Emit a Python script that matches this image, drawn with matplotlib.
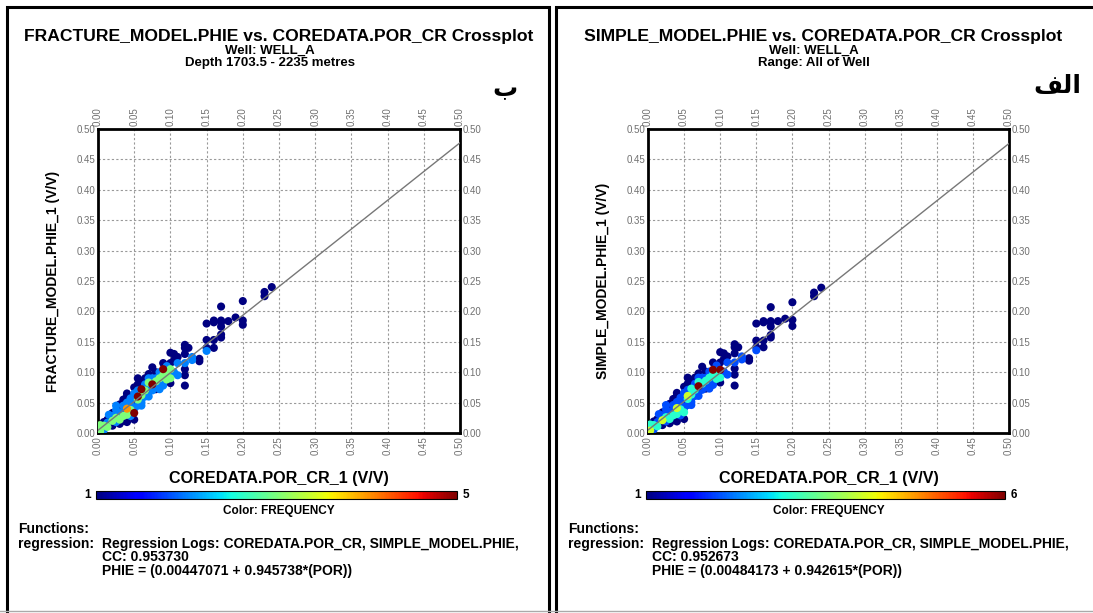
import matplotlib.pyplot as plt
import numpy as np

W, H = 1093, 613

# left panel: FRACTURE_MODEL (ب)
por_a = [0.003, 0.003, 0.003, 0.008, 0.008, 0.008, 0.013, 0.013, 0.013,
         0.02, 0.02, 0.02, 0.02, 0.025, 0.025, 0.025, 0.025,
         0.03, 0.03, 0.03, 0.03, 0.03, 0.035, 0.035, 0.035, 0.035, 0.035,
         0.04, 0.04, 0.04, 0.04, 0.04, 0.04, 0.045, 0.045, 0.045,
         0.05, 0.05, 0.05, 0.05, 0.05, 0.05, 0.05,
         0.055, 0.055, 0.055, 0.055, 0.055, 0.055,
         0.06, 0.06, 0.06, 0.06, 0.06, 0.065, 0.065, 0.065, 0.065,
         0.07, 0.07, 0.07, 0.07, 0.07, 0.075, 0.075, 0.075, 0.075,
         0.08, 0.08, 0.08, 0.08, 0.08, 0.085, 0.085, 0.085,
         0.09, 0.09, 0.09, 0.09, 0.095, 0.095, 0.095,
         0.10, 0.10, 0.10, 0.10, 0.10, 0.10, 0.105, 0.105, 0.105,
         0.11, 0.11, 0.11,
         0.12, 0.12, 0.12, 0.12, 0.12, 0.12, 0.12, 0.125,
         0.13, 0.13, 0.14, 0.14,
         0.15, 0.15, 0.15, 0.15, 0.16, 0.16, 0.16, 0.16,
         0.17, 0.17, 0.17, 0.17, 0.17, 0.17, 0.18, 0.19,
         0.20, 0.20, 0.20, 0.23, 0.23, 0.24,
         0.015, 0.025, 0.045, 0.06, 0.07, 0.085, 0.09]
phie_a = [0.003, 0.008, 0.013, 0.005, 0.012, 0.018, 0.010, 0.017, 0.022,
          0.012, 0.020, 0.028, 0.033, 0.018, 0.025, 0.030, 0.045,
          0.015, 0.022, 0.030, 0.040, 0.047, 0.020, 0.028, 0.036, 0.045, 0.055,
          0.018, 0.030, 0.040, 0.050, 0.060, 0.065, 0.028, 0.038, 0.047,
          0.022, 0.033, 0.040, 0.048, 0.057, 0.065, 0.075,
          0.045, 0.055, 0.060, 0.070, 0.080, 0.090,
          0.045, 0.055, 0.062, 0.072, 0.085, 0.060, 0.070, 0.080, 0.090,
          0.068, 0.075, 0.083, 0.090, 0.097, 0.070, 0.080, 0.090, 0.108,
          0.072, 0.078, 0.085, 0.090, 0.100, 0.080, 0.090, 0.100,
          0.085, 0.095, 0.105, 0.115, 0.088, 0.100, 0.110,
          0.082, 0.090, 0.095, 0.105, 0.115, 0.132, 0.100, 0.120, 0.130,
          0.095, 0.115, 0.125,
          0.078, 0.095, 0.105, 0.115, 0.130, 0.140, 0.145, 0.140,
          0.120, 0.125, 0.118, 0.122,
          0.135, 0.140, 0.153, 0.180, 0.140, 0.153, 0.182, 0.185,
          0.157, 0.162, 0.175, 0.182, 0.185, 0.208, 0.184, 0.190,
          0.178, 0.185, 0.217, 0.225, 0.232, 0.240,
          0.030, 0.038, 0.057, 0.050, 0.060, 0.072, 0.078]
freq_a = [3, 2, 3, 2, 3, 1, 3, 2, 1,
          1, 3, 2, 1, 2, 3, 2, 2,
          1, 3, 2, 1, 1, 1, 3, 2, 2, 1,
          1, 3, 4, 2, 1, 1, 2, 3, 2,
          1, 5, 2, 1, 2, 2, 1,
          2, 3, 5, 2, 1, 1,
          2, 2, 3, 5, 1, 2, 3, 2, 1,
          1, 2, 3, 2, 1, 2, 5, 2, 1,
          1, 2, 3, 2, 1, 2, 3, 2,
          2, 3, 5, 1, 3, 3, 2,
          1, 3, 2, 3, 1, 1, 2, 1, 1,
          2, 2, 1,
          1, 1, 1, 2, 1, 1, 1, 1,
          2, 2, 1, 1,
          2, 1, 1, 1, 1, 1, 1, 1,
          1, 1, 1, 1, 1, 1, 1, 1,
          1, 1, 1, 1, 1, 1,
          2, 2, 2, 2, 2, 2, 2]

# right panel: SIMPLE_MODEL (الف)
por_b = por_a
phie_b = [0.004, 0.009, 0.014, 0.006, 0.013, 0.019, 0.011, 0.018, 0.023,
          0.013, 0.021, 0.029, 0.034, 0.019, 0.026, 0.031, 0.046,
          0.016, 0.023, 0.031, 0.041, 0.048, 0.021, 0.029, 0.037, 0.046, 0.056,
          0.019, 0.031, 0.041, 0.051, 0.061, 0.066, 0.029, 0.039, 0.048,
          0.023, 0.034, 0.041, 0.049, 0.058, 0.066, 0.076,
          0.046, 0.056, 0.061, 0.071, 0.081, 0.091,
          0.046, 0.056, 0.063, 0.073, 0.086, 0.061, 0.071, 0.081, 0.091,
          0.069, 0.077, 0.084, 0.091, 0.098, 0.071, 0.081, 0.091, 0.109,
          0.073, 0.079, 0.086, 0.091, 0.101, 0.081, 0.091, 0.101,
          0.086, 0.096, 0.104, 0.116, 0.089, 0.101, 0.111,
          0.083, 0.091, 0.096, 0.104, 0.116, 0.133, 0.101, 0.121, 0.131,
          0.096, 0.116, 0.126,
          0.078, 0.096, 0.106, 0.116, 0.131, 0.141, 0.146, 0.141,
          0.121, 0.126, 0.119, 0.123,
          0.136, 0.141, 0.152, 0.180, 0.141, 0.152, 0.182, 0.184,
          0.157, 0.161, 0.175, 0.182, 0.184, 0.207, 0.184, 0.188,
          0.176, 0.186, 0.215, 0.225, 0.231, 0.239,
          0.031, 0.039, 0.058, 0.051, 0.061, 0.073, 0.079]
freq_b = [4, 2, 3, 2, 3, 1, 3, 2, 1,
          1, 4, 2, 1, 2, 3, 2, 2,
          1, 3, 2, 1, 1, 1, 3, 2, 2, 1,
          1, 3, 4, 2, 1, 1, 2, 3, 2,
          1, 3, 2, 1, 2, 2, 1,
          2, 3, 4, 2, 1, 1,
          2, 2, 3, 3, 1, 2, 3, 2, 1,
          1, 6, 3, 2, 1, 2, 3, 2, 1,
          1, 2, 3, 2, 1, 2, 3, 2,
          2, 3, 6, 1, 3, 3, 2,
          1, 3, 2, 6, 1, 1, 2, 1, 1,
          2, 2, 1,
          1, 1, 1, 2, 1, 1, 1, 1,
          2, 2, 1, 1,
          2, 1, 1, 1, 1, 1, 1, 1,
          1, 1, 1, 1, 1, 1, 1, 1,
          1, 1, 1, 1, 1, 1,
          2, 2, 2, 2, 2, 2, 2]

ticks = [0.00, 0.05, 0.10, 0.15, 0.20, 0.25, 0.30, 0.35, 0.40, 0.45, 0.50]

panels = [
    dict(tc=279, sc=270, title='FRACTURE_MODEL.PHIE vs. COREDATA.POR_CR Crossplot',
         sub1='Well: WELL_A', sub2='Depth 1703.5 - 2235 metres',
         ylabel='FRACTURE_MODEL.PHIE_1 (V/V)', por=por_a, phie=phie_a, freq=freq_a,
         fmax=5, cc='0.953730', a=0.00447071, b=0.945738,
         eq='PHIE = (0.00447071 + 0.945738*(POR))', tag='\u0628', tagx=505, tagy=89,
         ax_l=98, ax_r=460, cb_l=96, cb_r=457, tx=18),
    dict(tc=823, sc=814, title='SIMPLE_MODEL.PHIE vs. COREDATA.POR_CR Crossplot',
         sub1='Well: WELL_A', sub2='Range: All of Well',
         ylabel='SIMPLE_MODEL.PHIE_1 (V/V)', por=por_b, phie=phie_b, freq=freq_b,
         fmax=6, cc='0.952673', a=0.00484173, b=0.942615,
         eq='PHIE = (0.00484173 + 0.942615*(POR))',
         tag='\ufed2\ufedf\ufe8d', tagx=1057, tagy=86,
         ax_l=648, ax_r=1009, cb_l=646, cb_r=1005, tx=568),
]

plt.rcParams['font.family'] = ['Liberation Sans', 'DejaVu Sans']
fig = plt.figure(figsize=(W / 100, H / 100), dpi=100)


def fx(px):
    return px / W


def fy(py):
    return 1 - py / H


# panel frames
for (l, r) in [(7, 549), (556, 1100)]:
    fig.add_artist(plt.Rectangle((fx(l), fy(616)), fx(r - l), (616 - 7) / H,
                                 transform=fig.transFigure, fill=False,
                                 edgecolor='black', linewidth=2.2))
fig.add_artist(plt.Line2D([0, 1], [fy(611), fy(611)], transform=fig.transFigure,
                          color='#aaaaaa', linewidth=1))

for p in panels:
    cx = (p['ax_l'] + p['ax_r']) / 2
    fig.text(fx(p['tc']), fy(36), p['title'], ha='center', va='center',
             fontsize=12.6, fontweight='bold')
    fig.text(fx(p['sc']), fy(51), p['sub1'], ha='center', va='center',
             fontsize=9.5, fontweight='bold')
    fig.text(fx(p['sc']), fy(63), p['sub2'], ha='center', va='center',
             fontsize=9.5, fontweight='bold')
    fig.text(fx(p['tagx']), fy(p['tagy']), p['tag'], ha='center', va='center',
             fontsize=18, fontweight='bold', family=['DejaVu Sans'])

    ax = fig.add_axes([fx(p['ax_l']), fy(433), fx(p['ax_r'] - p['ax_l']), (433 - 129) / H])
    ax.set_xlim(0, 0.5)
    ax.set_ylim(0, 0.5)
    ax.set_xticks(ticks)
    ax.set_yticks(ticks)
    ax.set_xticklabels(['%.2f' % t for t in ticks], rotation=90)
    ax.set_yticklabels(['%.2f' % t for t in ticks])
    ax.tick_params(length=0, pad=2, labelsize=7, labelcolor='#707070',
                   top=True, right=True, labeltop=True, labelright=True)
    ax.grid(True, color='#999999', linestyle=(0, (2, 2)), linewidth=0.8)
    for s in ax.spines.values():
        s.set_linewidth(2)
    xs = np.linspace(0, 0.5, 50)
    ax.plot(xs, p['a'] + p['b'] * xs, color='#777777', linewidth=1, zorder=4)
    order = np.argsort(p['freq'], kind='stable')
    sc = ax.scatter(np.array(p['por'])[order], np.array(p['phie'])[order],
                    c=np.array(p['freq'])[order], cmap='jet', vmin=1, vmax=p['fmax'],
                    s=34, edgecolors='none', zorder=3)
    ax.set_ylabel(p['ylabel'], fontsize=10, fontweight='bold', labelpad=12)

    fig.text(fx(cx), fy(479), 'COREDATA.POR_CR_1 (V/V)', ha='center', va='center',
             fontsize=11.6, fontweight='bold')
    cax = fig.add_axes([fx(p['cb_l']), fy(499), fx(p['cb_r'] - p['cb_l']), 8 / H])
    cb = fig.colorbar(sc, cax=cax, orientation='horizontal')
    cb.set_ticks([])
    cb.outline.set_linewidth(0.8)
    fig.text(fx(p['cb_l'] - 8), fy(495), '1', ha='center', va='center',
             fontsize=8.5, fontweight='bold')
    fig.text(fx(p['cb_r'] + 9), fy(495), str(p['fmax']), ha='center', va='center',
             fontsize=8.5, fontweight='bold')
    fig.text(fx(cx), fy(511), 'Color: FREQUENCY',
             ha='center', va='center', fontsize=8.5, fontweight='bold')

    fig.text(fx(p['tx']), fy(529), 'Functions:', ha='left', va='center',
             fontsize=10, fontweight='bold')
    fig.text(fx(p['tx']), fy(544), 'regression:', ha='left', va='center',
             fontsize=10, fontweight='bold')
    fig.text(fx(p['tx'] + 84), fy(544),
             'Regression Logs: COREDATA.POR_CR, SIMPLE_MODEL.PHIE,',
             ha='left', va='center', fontsize=10, fontweight='bold')
    fig.text(fx(p['tx'] + 84), fy(557), 'CC: ' + p['cc'], ha='left', va='center',
             fontsize=10, fontweight='bold')
    fig.text(fx(p['tx'] + 84), fy(571), p['eq'], ha='left', va='center',
             fontsize=10, fontweight='bold')

fig.savefig('out.png', dpi=100)
